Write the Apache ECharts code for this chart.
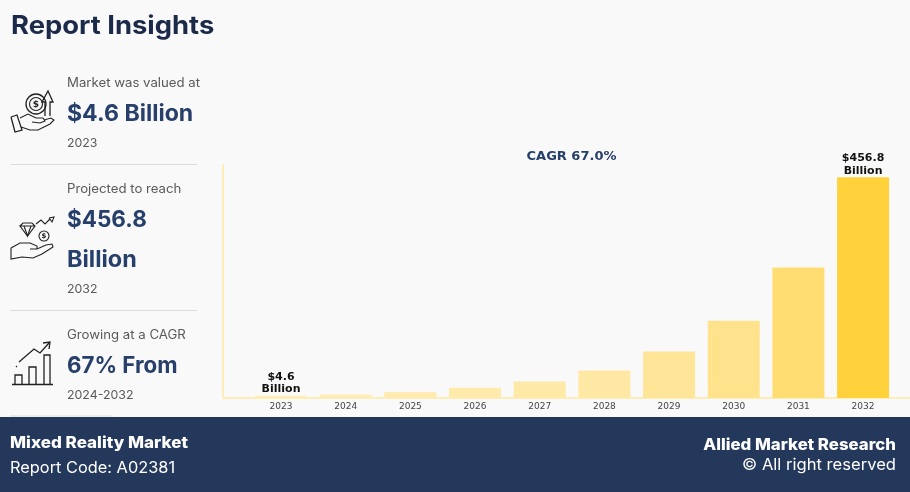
<!DOCTYPE html>
<html><head><meta charset="utf-8">
<style>html,body{margin:0;padding:0;background:#f9f9f9}#c{width:910px;height:492px}</style>
<script src="https://cdn.jsdelivr.net/npm/echarts@6/dist/echarts.min.js"></script>
</head><body><div id="c"></div>
<script>
const years = ['2023','2024','2025','2026','2027','2028','2029','2030','2031','2032'];
const marketValues = [4.6, 7.5, 12.5, 21, 34, 57, 96, 160, 270, 456.8];
const barColors = ['#FFEDB8','#FFEDB8','#FFEBAF','#FFEAAB','#FFE9A6','#FFE8A3','#FFE597','#FFE28C','#FFDD72','#FFD23C'];
const labelledYears = ['2023','2032'];
const heading = 'Report Insights';
const cagrNote = 'CAGR 67.0%';
const footerLeft = ['Mixed Reality Market','Report Code: A02381'];
const footerRight = ['Allied Market Research','© All right reserved'];

const UI = '"Inter","Noto Sans",sans-serif';
const NAVY = '#27406B', INK = '#1C2A4A', MUTED = '#5A5A5A';
function txt(x,y,text,size,weight,fill,sx,align){
  return {type:'text',x:x,y:y,scaleX:sx||1,silent:true,style:{text:text,fill:fill,align:align||'left',verticalAlign:'middle',
    font:(weight||400)+' '+size+'px '+UI}};
}
function line(x1,y1,x2,y2,c,w){return {type:'line',shape:{x1,y1,x2,y2},style:{stroke:c,lineWidth:w||1},silent:true};}
function poly(points,w,smooth){return {type:'polyline',shape:{points:points,smooth:smooth||0},style:{fill:'none',stroke:'#222',lineWidth:w||1.1},silent:true};}
function ring(cx,cy,r,w){return {type:'circle',shape:{cx,cy,r},style:{fill:'none',stroke:'#222',lineWidth:w||1.1},silent:true};}
function sym(x,y,s){return {type:'text',x:x,y:y,silent:true,style:{text:'$',fill:'#222',align:'center',verticalAlign:'middle',font:'700 '+s+'px "DejaVu Sans"'}};}

const graphics = [
  {type:'rect',shape:{x:0,y:417,width:910,height:75},style:{fill:'#24385B'},silent:true,z:-1},
  txt(11,26,heading,25.5,700,INK,1.074),
  txt(67,83,'Market was valued at',12.4,400,MUTED,1.065),
  txt(67,114,'$4.6 Billion',22.5,700,NAVY,1.025),
  txt(67,143,'2023',12,400,MUTED,1.03),
  line(10,164.5,197,164.5,'#DDDDDD'),
  txt(67,189,'Projected to reach',12.4,400,MUTED,1.065),
  txt(67,220,'$456.8',22.5,700,NAVY,1),
  txt(67,260,'Billion',22.5,700,NAVY,1.04),
  txt(67,289,'2032',12,400,MUTED,1.03),
  line(10,310.5,197,310.5,'#DDDDDD'),
  txt(67,335,'Growing at a CAGR',12.4,400,MUTED,1.065),
  txt(67,366,'67% From',22.5,700,NAVY,0.99),
  txt(67,395,'2024-2032',12,400,MUTED,1.03),
  line(10,416,113,416,'#DDDDDD'),
  {type:'text',x:571.500,y:157,silent:true,style:{text:cagrNote,fill:NAVY,align:'center',verticalAlign:'middle',font:'700 13px "DejaVu Sans"'}},
  txt(10,443,footerLeft[0],15.5,800,'#FFFFFF',1.1),
  txt(10,468.500,footerLeft[1],15.5,400,'#FFFFFF',1.055),
  txt(896,445,footerRight[0],15.5,800,'#FFFFFF',1.085,'right'),
  txt(896,465,footerRight[1],15.5,400,'#FFFFFF',1.07,'right'),
  // icon 1: coin, arrow and hand
  ring(36,104,10,1.3), ring(36,104,6.5), sym(36,104.5,9),
  poly([[45,116],[45,102],[42,102],[48,91],[53,102],[50,102],[50,116]],1.3),
  poly([[11,117],[17,115],[22,130],[15,132],[11,117]],1.3),
  poly([[20,118],[28,114],[36,118],[43,118],[45,121],[40,123],[32,122]],1.1),
  poly([[44,120],[51,118],[54,120],[50,124],[38,130],[30,130],[21,127]],1.1),
  // icon 2: gem, coin, trend and hand
  poly([[20,226],[23,223],[32,223],[35,226],[27.500,236],[20,226],[35,226]]),
  poly([[24,226],[27.500,236],[31,226]]),
  ring(44,236,5), sym(44,236.5,7),
  poly([[36,224],[41,220],[45,224],[50,219]]),
  poly([[49,218],[54,217],[52,222],[49,218]]),
  poly([[11,248],[11,259],[22,257],[33,258],[42,254],[53,247],[52,244],[46,245],[37,249],[30,249]]),
  poly([[11,248],[20,243],[30,243],[37,246],[37,249]]),
  // icon 3: bars and trend
  poly([[12,384.5],[53,384.5]],1.5),
  poly([[15,384],[15,375],[22,375],[22,384]],1.3),
  poly([[29,384],[29,367],[36,367],[36,384]],1.3),
  poly([[44,384],[44,355],[50,355],[50,384]],1.3),
  poly([[19,362],[34,349],[40,353],[49,343]],1.3),
  poly([[43,343],[50,342],[49,349]],1.3),
  poly([[16,367],[17,366]],1.3)
];

const chart = echarts.init(document.getElementById('c'),null,{renderer:'canvas'});
chart.setOption({
  animation:false,
  backgroundColor:'#F9F9F9',
  grid:[
    {left:223,right:0,top:165,height:233},
    {left:248.7,width:646.7,top:166,height:232}
  ],
  xAxis:[
    {gridIndex:0,type:'value',min:0,max:1,splitLine:{show:false},axisTick:{show:false},axisLabel:{show:false},
     axisLine:{show:true,lineStyle:{color:'#FFEDB8',width:2}}},
    {gridIndex:1,type:'category',data:years,axisLine:{show:false},axisTick:{show:false},
     axisLabel:{color:'#444',fontSize:9,fontFamily:'DejaVu Sans',margin:4}}
  ],
  yAxis:[
    {gridIndex:0,type:'value',min:0,max:1,splitLine:{show:false},axisTick:{show:false},axisLabel:{show:false},
     axisLine:{show:true,lineStyle:{color:'#FFEDB8',width:2}}},
    {gridIndex:1,type:'value',min:0,max:480,show:false,splitLine:{show:false}}
  ],
  series:[{
    type:'bar',xAxisIndex:1,yAxisIndex:1,barWidth:52,
    data:marketValues.map((v,i)=>({value:v,itemStyle:{color:barColors[i]}})),
    label:{show:true,position:'top',distance:0,color:'#111',fontFamily:'DejaVu Sans',fontWeight:700,fontSize:11,lineHeight:12.5,
      formatter:p=>labelledYears.includes(p.name)?'$'+p.value+'\nBillion':''}
  }],
  graphic:{elements:graphics}
});
</script></body></html>
